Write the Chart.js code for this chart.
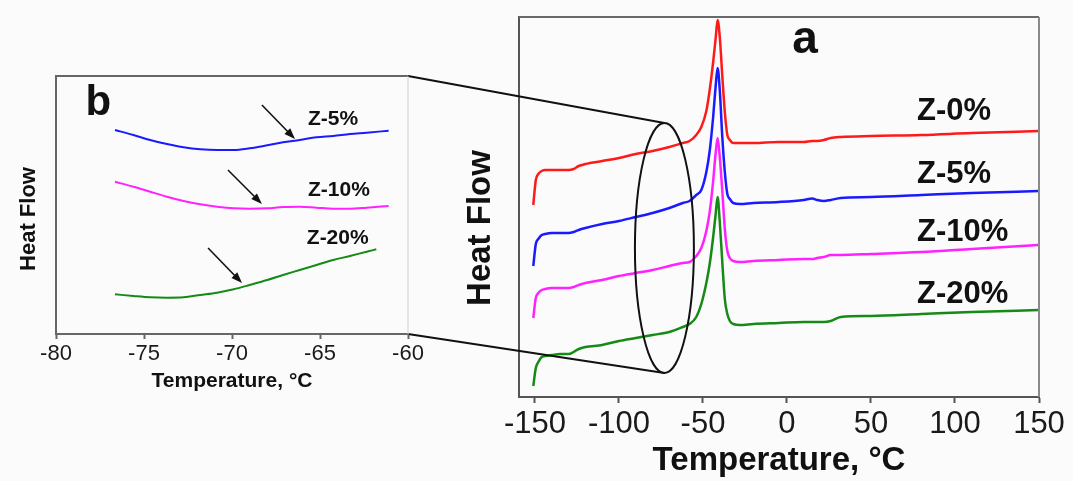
<!DOCTYPE html>
<html><head><meta charset="utf-8">
<script src="https://cdn.jsdelivr.net/npm/chart.js@4.4.1/dist/chart.umd.min.js"></script>
<style>
html,body{margin:0;padding:0;background:#fbfbfb;}
#wrap{position:relative;width:1073px;height:481px;overflow:hidden;}
#ca,#cb{position:absolute;left:0;top:0;}
</style></head><body>
<div id="wrap">
<canvas id="ca" width="1073" height="481"></canvas>
<canvas id="cb" width="440" height="400"></canvas>
</div>
<script>
// ---------- Panel a : full DSC traces ----------
const tempA = [-151, -149.5, -148, -146, -144, -140, -135, -130, -127, -124, -120, -110, -100, -90, -80, -70, -62, -58, -54, -51, -48, -46, -44, -42.5, -41.3, -40, -38.5, -37, -35.5, -34, -32, -28, -20, -5, 10, 15, 18, 22, 26, 32, 50, 80, 110, 150];
const z0A  = [192, 217, 223, 226, 227, 227, 227, 227, 228, 231, 233, 236, 239, 243, 246, 250, 254, 256, 262, 270, 286, 307, 334, 358, 377, 360, 321, 285, 262, 257, 254, 254, 254, 255, 255, 256, 256, 257, 259, 260, 261, 262, 264, 266];
const z5A  = [131, 153, 158, 162, 163, 164, 164, 164, 165, 167, 169, 173, 176, 180, 184, 189, 194, 196, 202, 207, 225, 246, 279, 310, 329, 307, 260, 225, 203, 198, 194, 193, 194, 195, 197, 198.5, 197, 196, 197, 199, 200, 202, 204, 206];
const z10A = [79, 99, 104, 107, 108, 109, 109, 109, 110, 112, 114, 117, 121, 124, 127, 131, 134, 135, 141, 149, 166, 185, 215, 243, 259, 240, 206, 168, 146, 139, 136, 135, 136, 137, 138, 138, 139, 140, 142, 142, 143, 145, 148, 152];
const z20A = [11, 29, 35, 40, 41, 42, 43, 43, 45, 48, 50, 52, 56, 59, 62, 65, 70, 73, 80, 93, 114, 133, 159, 182, 200, 175, 135, 98, 83, 76, 73, 72, 73, 74, 75, 75, 75, 75, 76, 80, 81, 83, 85, 87];
const ticksA = [-150, -100, -50, 0, 50, 100, 150];
const namesA = ['Z-0%', 'Z-5%', 'Z-10%', 'Z-20%'];

// ---------- Panel b : zoom of the glass transition ----------
const tempB   = [-76.65, -75.6, -74.65, -73.7, -72.75, -71.8, -70.85, -69.9, -69, -68, -67.1, -66.15, -65.2, -64.25, -63.3, -62.35, -61.1];
const tempB20 = [-76.65, -75.6, -74.65, -73.7, -72.75, -71.8, -70.85, -69.9, -69, -68, -67.1, -66.15, -65.2, -64.25, -63.3, -62.35, -61.8];
const z5B  = [204, 199, 194, 190, 186.7, 184.7, 184, 184, 185.7, 188.7, 191.7, 194, 196.7, 198, 200, 201.3, 203.3];
const z10B = [152.3, 147.3, 142.3, 137.3, 133, 129.7, 127.3, 125.7, 125.3, 125.7, 127, 127.3, 126.3, 125.3, 125.3, 126.3, 128];
const z20B = [39.7, 38, 36.7, 36.3, 36.7, 39, 41.3, 44.7, 49, 54, 59, 64, 69, 74, 78, 82.3, 84.7];
const ticksB = [-80, -75, -70, -65, -60];
const namesB = ['Z-5%', 'Z-10%', 'Z-20%'];

const colors = ['#ff1a1a', '#1a1aff', '#ff22ff', '#168a16'];
const FONT = '"Liberation Sans", Arial, sans-serif';

function pts(xs, ys){ return xs.map((x, i) => ({x: x, y: ys[i]})); }
function arrow(ctx, x1, y1, x2, y2){
  const a = Math.atan2(y2 - y1, x2 - x1), L = 11, W = 4;
  ctx.save();
  ctx.strokeStyle = '#111'; ctx.fillStyle = '#111'; ctx.lineWidth = 1.6;
  ctx.beginPath(); ctx.moveTo(x1, y1);
  ctx.lineTo(x2 - L * Math.cos(a) * 0.8, y2 - L * Math.sin(a) * 0.8); ctx.stroke();
  ctx.beginPath(); ctx.moveTo(x2, y2);
  ctx.lineTo(x2 - L * Math.cos(a) + W * Math.sin(a), y2 - L * Math.sin(a) - W * Math.cos(a));
  ctx.lineTo(x2 - L * Math.cos(a) - W * Math.sin(a), y2 - L * Math.sin(a) + W * Math.cos(a));
  ctx.closePath(); ctx.fill();
  ctx.restore();
}
function vtext(ctx, txt, x, y, font){
  ctx.save(); ctx.translate(x, y); ctx.rotate(-Math.PI / 2);
  ctx.font = font; ctx.fillStyle = '#111'; ctx.textAlign = 'center'; ctx.textBaseline = 'middle';
  ctx.fillText(txt, 0, 0); ctx.restore();
}

// ----- chart b -----
const bPlugin = {
  id: 'bdeco',
  afterDatasetsDraw(chart){
    const {ctx, chartArea: c, scales: {x, y}} = chart;
    ctx.save();
    ctx.strokeStyle = '#666'; ctx.lineWidth = 2;
    ctx.beginPath(); ctx.moveTo(c.left, c.top); ctx.lineTo(c.right, c.top); ctx.stroke();
    ctx.strokeStyle = '#cfcfcf'; ctx.lineWidth = 1;
    ctx.beginPath(); ctx.moveTo(c.right, c.top); ctx.lineTo(c.right, c.bottom); ctx.stroke();
    ctx.fillStyle = '#111'; ctx.textBaseline = 'middle'; ctx.textAlign = 'left';
    ctx.font = 'bold 21px ' + FONT;
    const lab = [[-65.68, 214.5], [-65.68, 143.5], [-65.75, 96]];
    namesB.forEach((n, i) => ctx.fillText(n, x.getPixelForValue(lab[i][0]), y.getPixelForValue(lab[i][1])));
    ctx.font = 'bold 42px ' + FONT; ctx.textAlign = 'center'; ctx.textBaseline = 'alphabetic';
    ctx.fillText('b', x.getPixelForValue(-77.6), y.getPixelForValue(219));
    const arr = [[-68.3, 229, -66.42, 195], [-70.23, 164, -68.3, 130], [-71.36, 86, -69.43, 51]];
    arr.forEach(a => arrow(ctx, x.getPixelForValue(a[0]), y.getPixelForValue(a[1]), x.getPixelForValue(a[2]), y.getPixelForValue(a[3])));
    ctx.restore();
    vtext(ctx, 'Heat Flow', 29, 219, 'bold 22px ' + FONT);
  }
};
const chartB = new Chart(document.getElementById('cb'), {
  type: 'line',
  data: { datasets: [
    {label: namesB[0], data: pts(tempB, z5B), borderColor: colors[1]},
    {label: namesB[1], data: pts(tempB, z10B), borderColor: colors[2]},
    {label: namesB[2], data: pts(tempB20, z20B), borderColor: colors[3]}
  ]},
  options: {
    responsive: false, animation: false, devicePixelRatio: 1,
    layout: {padding: {top: 76, right: 32, left: 0, bottom: 0}},
    elements: {point: {radius: 0}, line: {borderWidth: 2, cubicInterpolationMode: 'monotone'}},
    plugins: {legend: {display: false}, tooltip: {enabled: false}},
    scales: {
      x: {type: 'linear', min: -80, max: -60,
        afterBuildTicks: s => { s.ticks = ticksB.map(v => ({value: v})); },
        afterFit: s => { s.height = 66; },
        ticks: {font: {family: FONT, size: 22}, color: '#1a1a1a', padding: 2, maxRotation: 0, autoSkip: false},
        grid: {display: true, drawOnChartArea: false, drawTicks: true, tickLength: 5, tickWidth: 2, tickColor: '#666'},
        border: {display: true, color: '#666', width: 2},
        title: {display: true, text: 'Temperature, °C', color: '#111', font: {family: FONT, size: 21, weight: 'bold'}, padding: {top: 0, bottom: 6}}
      },
      y: {min: 0, max: 258,
        afterFit: s => { s.width = 56; },
        ticks: {display: false}, grid: {display: false},
        border: {display: true, color: '#666', width: 2}
      }
    }
  },
  plugins: [bPlugin]
});

// ----- chart a -----
const aPlugin = {
  id: 'adeco',
  afterDatasetsDraw(chart){
    const {ctx, chartArea: c, scales: {x, y}} = chart;
    ctx.save();
    ctx.strokeStyle = '#6a6a6a'; ctx.lineWidth = 2;
    ctx.beginPath(); ctx.moveTo(c.left, c.top); ctx.lineTo(c.right, c.top); ctx.stroke();
    ctx.strokeStyle = '#8a8a8a';
    ctx.beginPath(); ctx.moveTo(c.right, c.top); ctx.lineTo(c.right, c.bottom); ctx.stroke();
    // ellipse (zoomed region) and connectors to panel b
    const cx = x.getPixelForValue(-72.95), rx = Math.abs(x.getPixelForValue(-55.4) - cx);
    const yt = y.getPixelForValue(274), yb = y.getPixelForValue(24);
    const cy = (yt + yb) / 2, ry = (yb - yt) / 2;
    ctx.strokeStyle = '#111'; ctx.lineWidth = 2;
    ctx.beginPath(); ctx.ellipse(cx, cy, rx, ry, 0, 0, Math.PI * 2); ctx.stroke();
    const b = chartB.chartArea;
    ctx.beginPath(); ctx.moveTo(b.right, b.top); ctx.lineTo(cx, yt); ctx.stroke();
    ctx.beginPath(); ctx.moveTo(b.right, b.bottom); ctx.lineTo(cx, yb); ctx.stroke();
    // labels
    ctx.fillStyle = '#111'; ctx.textAlign = 'left'; ctx.textBaseline = 'middle';
    ctx.font = 'bold 31px ' + FONT;
    const lab = [286, 223, 165, 103];
    namesA.forEach((n, i) => ctx.fillText(n, x.getPixelForValue(77.4), y.getPixelForValue(lab[i])));
    ctx.font = 'bold 46px ' + FONT; ctx.textAlign = 'center'; ctx.textBaseline = 'alphabetic';
    ctx.fillText('a', x.getPixelForValue(10.7), y.getPixelForValue(344));
    ctx.restore();
    vtext(ctx, 'Heat Flow', 481, 228, 'bold 33px ' + FONT);
  }
};
const seriesA = [z0A, z5A, z10A, z20A];
new Chart(document.getElementById('ca'), {
  type: 'line',
  data: { datasets: seriesA.map((s, i) => ({label: namesA[i], data: pts(tempA, s), borderColor: colors[i]})) },
  options: {
    responsive: false, animation: false, devicePixelRatio: 1,
    layout: {padding: {top: 17, right: 34, left: 0, bottom: 0}},
    elements: {point: {radius: 0}, line: {borderWidth: 2.5, cubicInterpolationMode: 'monotone'}},
    plugins: {legend: {display: false}, tooltip: {enabled: false}},
    scales: {
      x: {type: 'linear', min: -159.5, max: 150,
        afterBuildTicks: s => { s.ticks = ticksA.map(v => ({value: v})); },
        afterFit: s => { s.height = 84; },
        ticks: {font: {family: FONT, size: 31}, color: '#1a1a1a', padding: 3, maxRotation: 0, autoSkip: false},
        grid: {display: true, drawOnChartArea: false, drawTicks: true, tickLength: 6, tickWidth: 2, tickColor: '#555'},
        border: {display: true, color: '#555', width: 2},
        title: {display: true, text: 'Temperature, °C', color: '#111', font: {family: FONT, size: 33, weight: 'bold'}, padding: {top: 0, bottom: 0}}
      },
      y: {min: 0, max: 380,
        afterFit: s => { s.width = 519; },
        ticks: {display: false}, grid: {display: false},
        border: {display: true, color: '#555', width: 2}
      }
    }
  },
  plugins: [aPlugin]
});
</script>
</body></html>
